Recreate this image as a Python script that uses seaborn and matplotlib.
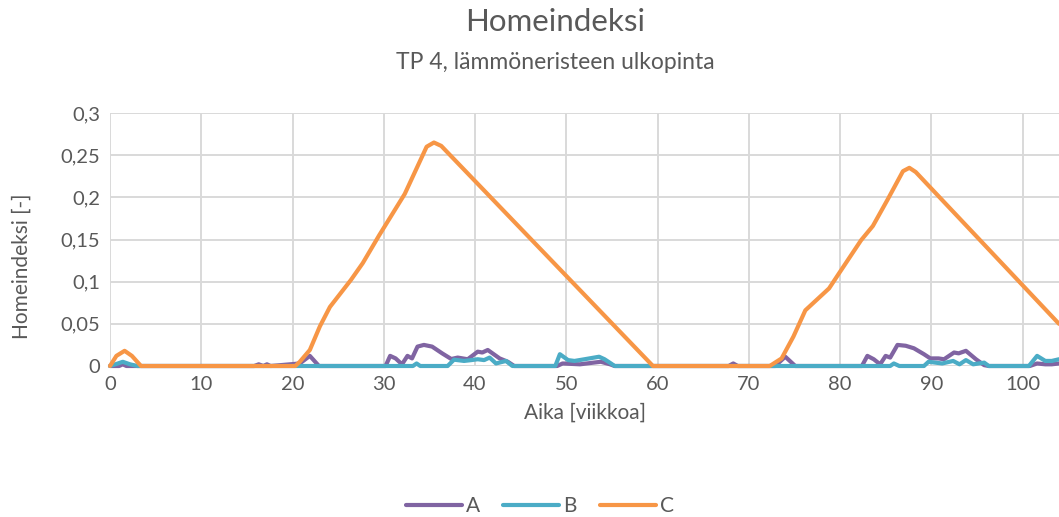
import matplotlib
matplotlib.use("Agg")
import matplotlib.pyplot as plt
import seaborn as sns
import pandas as pd

# ---- data ----
weeks_a = [0, 1.0, 1.4, 1.8, 15.8, 16.3, 16.8, 17.2, 17.6, 20.8, 21.9, 22.9, 30.2, 30.7, 31.3, 32.0, 32.6,
           33.1, 33.7, 34.4, 35.3, 36.4, 37.4, 38.1, 39.2, 40.3, 40.8, 41.4, 42.7, 43.6, 44.3, 49.0,
           49.6, 51.5, 53.0, 53.8, 54.8, 55.3, 67.8, 68.3, 68.8, 72.9, 74.0, 75.1, 82.4, 83.0, 83.7,
           84.4, 85.0, 85.5, 86.3, 87.2, 88.1, 89.2, 89.9, 90.8, 91.4, 92.5, 93.0, 93.8, 94.9, 95.8,
           96.3, 100.8, 101.6, 102.5, 103.2, 104]
vals_a = [0, 0, 0.002, 0, 0, 0.002, 0, 0.002, 0, 0.003, 0.012, 0, 0, 0.012, 0.009, 0.002, 0.012,
          0.009, 0.023, 0.025, 0.023, 0.015, 0.0083, 0.010, 0.008, 0.017, 0.016, 0.019, 0.009, 0.005, 0,
          0, 0.003, 0.002, 0.004, 0.005, 0.002, 0, 0, 0.003, 0, 0, 0.011, 0, 0, 0.012, 0.008,
          0.002, 0.012, 0.010, 0.025, 0.024, 0.021, 0.014, 0.009, 0.009, 0.008, 0.016, 0.015, 0.018,
          0.008, 0.001, 0, 0, 0.003, 0.002, 0.002, 0.003]

weeks_b = [0, 0.6, 1.4, 2.2, 3.0, 33.2, 33.6, 34.0, 37.0, 37.7, 38.8, 39.6, 40.3, 41.0, 41.6, 42.3,
           43.4, 44.1, 48.8, 49.3, 50.2, 50.9, 52.0, 53.6, 54.2, 54.9, 55.3, 85.5, 85.9, 86.5, 89.2,
           89.7, 91.2, 92.4, 93.1, 93.8, 94.6, 95.8, 96.3, 100.7, 101.6, 102.5, 103.2, 104]
vals_b = [0, 0.002, 0.005, 0.002, 0, 0, 0.003, 0, 0, 0.0075, 0.006, 0.007, 0.008, 0.007, 0.010, 0.003,
          0.006, 0, 0, 0.014, 0.007, 0.006, 0.008, 0.011, 0.008, 0.003, 0, 0, 0.003, 0, 0,
          0.005, 0.003, 0.006, 0.002, 0.007, 0.002, 0.004, 0, 0, 0.012, 0.006, 0.006, 0.008]

weeks_c = [0, 0.7, 1.6, 2.4, 3.4, 20.3, 20.8, 21.9, 23.0, 24.1, 26.4, 27.7, 29.5, 31.5, 32.3, 34.7,
           35.5, 36.3, 59.5, 72.3, 73.6, 74.9, 76.2, 78.8, 79.9, 82.3, 83.6, 85.2, 86.9, 87.6, 88.3, 104]
vals_c = [0, 0.012, 0.018, 0.012, 0, 0, 0.005, 0.019, 0.047, 0.070, 0.102, 0.122, 0.155, 0.19, 0.204,
          0.26, 0.265, 0.261, 0, 0, 0.009, 0.035, 0.066, 0.092, 0.110, 0.149, 0.166, 0.197, 0.231,
          0.235, 0.230, 0.050]

series_names = ["A", "B", "C"]
colors = ["#8064A2", "#4BACC6", "#F79646"]
x_ticks = [0, 10, 20, 30, 40, 50, 60, 70, 80, 90, 100]
y_ticks = [0, 0.05, 0.1, 0.15, 0.2, 0.25, 0.3]
y_tick_labels = ["0", "0,05", "0,1", "0,15", "0,2", "0,25", "0,3"]

df = pd.concat([
    pd.DataFrame({"Aika": weeks_a, "Homeindeksi": vals_a, "Sarja": "A"}),
    pd.DataFrame({"Aika": weeks_b, "Homeindeksi": vals_b, "Sarja": "B"}),
    pd.DataFrame({"Aika": weeks_c, "Homeindeksi": vals_c, "Sarja": "C"}),
], ignore_index=True)

sns.set_theme(style="whitegrid")
plt.rcParams["font.family"] = ["Lato", "DejaVu Sans"]
text_color = "#595959"

fig = plt.figure(figsize=(10.59, 5.17), dpi=100)
ax = fig.add_axes([110 / 1059, 1 - 366 / 517, (1059 - 110) / 1059, (366 - 113) / 517])

sns.lineplot(data=df, x="Aika", y="Homeindeksi", hue="Sarja", hue_order=series_names,
             palette=colors, linewidth=3.0, ax=ax, legend=False, sort=False,
             solid_capstyle="round", solid_joinstyle="round", clip_on=False)

ax.set_xlim(0, 104)
ax.set_ylim(0, 0.3)
ax.set_xticks(x_ticks)
ax.set_xticklabels([str(t) for t in x_ticks])
ax.set_yticks(y_ticks)
ax.set_yticklabels(y_tick_labels)
ax.tick_params(axis="both", length=0, labelsize=14.5, labelcolor=text_color, pad=7)
ax.grid(True, color="#D9D9D9", linewidth=1.4)
for s in ax.spines.values():
    s.set_visible(False)
ax.set_facecolor("white")

ax.set_xlabel("Aika [viikkoa]", fontsize=15, color=text_color, labelpad=7)
ax.set_ylabel("")
fig.text(22 / 1059, 1 - 266 / 517, "Homeindeksi [-]", ha="center", va="center",
         rotation=90, fontsize=15, color=text_color)

fig.text(555 / 1059, 1 - 22 / 517, "Homeindeksi", ha="center", va="center",
         fontsize=22.5, color=text_color)
fig.text(555 / 1059, 1 - 63 / 517, "TP 4, lämmöneristeen ulkopinta", ha="center", va="center",
         fontsize=16.5, color=text_color)

handles = [plt.Line2D([0], [0], color=c, linewidth=3.0, solid_capstyle="round") for c in colors]
leg = fig.legend(handles, series_names, loc="center", bbox_to_anchor=(540 / 1059, 1 - 506 / 517),
                 ncol=3, frameon=False, fontsize=15, handlelength=2.7, handletextpad=0.2,
                 columnspacing=1.1)
for t in leg.get_texts():
    t.set_color(text_color)

fig.savefig("out.png", dpi=100, facecolor="white")
